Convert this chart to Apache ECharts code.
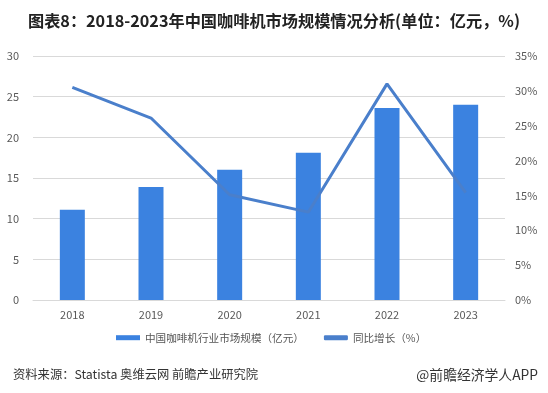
<!DOCTYPE html>
<html><head><meta charset="utf-8">
<script src="https://cdn.jsdelivr.net/npm/echarts@6/dist/echarts.min.js"></script>
<style>html,body{margin:0;padding:0;background:#fff;}#c{width:548px;height:393px;}</style>
</head><body><div id="c"></div>
<script>
const categories = ['2018','2019','2020','2021','2022','2023'];
const marketSize = [11.1, 13.9, 16.0, 18.1, 23.6, 24.0];
const growthRate = [30.5, 26.1, 15.1, 12.6, 31.0, 15.4];
const leftTicks = [0, 5, 10, 15, 20, 25, 30];
const rightTicks = [0, 5, 10, 15, 20, 25, 30, 35];
const titleText = '图表8：2018-2023年中国咖啡机市场规模情况分析(单位：亿元，%)';
const sourceText = '资料来源：Statista 奥维云网 前瞻产业研究院';
const brandText = '@前瞻经济学人APP';
const seriesNames = ['中国咖啡机行业市场规模（亿元）', '同比增长（%）'];

const font = '"Microsoft YaHei","Noto Sans CJK SC",sans-serif';
const chart = echarts.init(document.getElementById('c'), null, {renderer:'canvas'});
chart.setOption({
  animation:false,
  backgroundColor:'#fff',
  textStyle:{fontFamily:font},
  title:[{
    text:titleText, left:'center', top:8,
    textStyle:{fontSize:16.2, fontWeight:'bold', color:'#222', fontFamily:font}
  },{
    text:sourceText, left:8, top:363,
    textStyle:{fontSize:12.3, fontWeight:'normal', color:'#333', fontFamily:font}
  },{
    text:brandText, right:5, top:363,
    textStyle:{fontSize:13.8, fontWeight:'normal', color:'#333', fontFamily:font}
  }],
  legend:{
    bottom:45, left:111, itemGap:20,
    itemWidth:24, itemHeight:5,
    textStyle:{fontSize:10.6, color:'#555', fontFamily:font},
    data:[{name:seriesNames[0], icon:'rect'},
          {name:seriesNames[1], icon:'roundRect', itemStyle:{color:'#4a7fcb'}}]
  },
  grid:{left:33, right:43, top:56, bottom:93},
  xAxis:{
    type:'category', data:categories,
    axisLine:{lineStyle:{color:'#d9d9d9'}},
    axisTick:{show:false},
    axisLabel:{color:'#595959', fontSize:11, margin:9}
  },
  yAxis:[{
    type:'value', min:0, max:30, interval:5,
    axisLine:{show:false}, axisTick:{show:false},
    axisLabel:{color:'#595959', fontSize:11, margin:14,
      formatter:v=>leftTicks.includes(v)?String(v):''},
    splitLine:{lineStyle:{color:'#d9d9d9'}}
  },{
    type:'value', min:0, max:35, interval:5,
    axisLine:{show:false}, axisTick:{show:false},
    axisLabel:{color:'#595959', fontSize:11, margin:10,
      formatter:v=>rightTicks.includes(v)?v+'%':''},
    splitLine:{show:false}
  }],
  series:[{
    name:seriesNames[0], type:'bar', data:marketSize, barWidth:25,
    itemStyle:{color:'#3b82e0'}
  },{
    name:seriesNames[1], type:'line', yAxisIndex:1, data:growthRate,
    symbol:'none', lineStyle:{color:'#4a7fcb', width:3},
    itemStyle:{color:'#4a7fcb'}
  }]
});
</script></body></html>
